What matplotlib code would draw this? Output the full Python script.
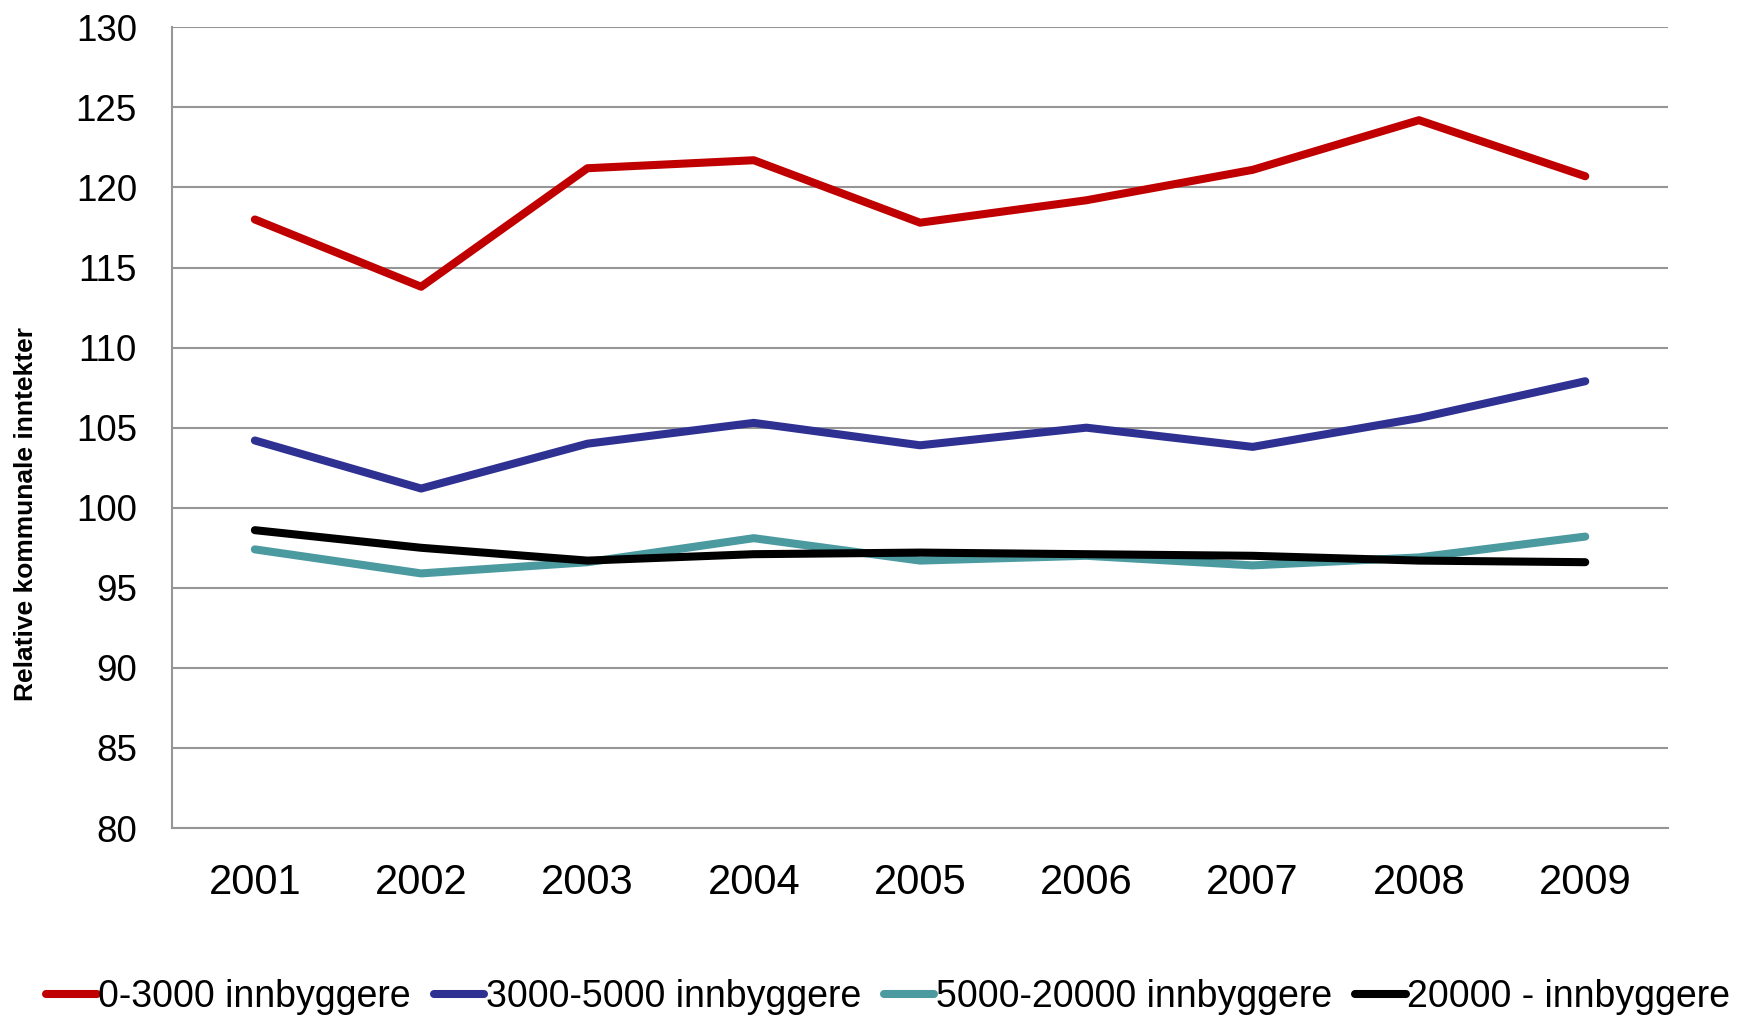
import matplotlib
matplotlib.use("Agg")
import matplotlib.pyplot as plt

plt.rcParams["font.family"] = ["Liberation Sans", "DejaVu Sans"]

years = ["2001", "2002", "2003", "2004", "2005", "2006", "2007", "2008", "2009"]
series_names = ["0-3000 innbyggere", "3000-5000 innbyggere",
                "5000-20000 innbyggere", "20000 - innbyggere"]
small = [118.0, 113.8, 121.2, 121.7, 117.8, 119.2, 121.1, 124.2, 120.7]
medium = [104.2, 101.2, 104.0, 105.3, 103.9, 105.0, 103.8, 105.6, 107.9]
large = [97.4, 95.9, 96.6, 98.1, 96.7, 97.0, 96.4, 96.9, 98.2]
city = [98.6, 97.5, 96.7, 97.1, 97.2, 97.1, 97.0, 96.7, 96.6]
colors = ["#C00000", "#2E3192", "#4A9AA0", "#000000"]

fig = plt.figure(figsize=(17.45, 10.19), dpi=100)
ax = fig.add_axes([0.0984, 0.1874, 0.8577, 0.7858])

x = range(len(years))
for vals, name, col in zip([small, medium, large, city], series_names, colors):
    ax.plot(x, vals, color=col, lw=5.8, label=name, solid_capstyle="round")

ax.set_xlim(-0.5, len(years) - 0.5)
ax.set_ylim(80, 130)
ax.set_yticks(range(80, 131, 5))
ax.set_xticks(list(x))
ax.set_xticklabels(years)
ax.tick_params(axis="y", length=0, pad=25, labelsize=26.5)
ax.tick_params(axis="x", length=0, pad=25, labelsize=30)
ax.yaxis.grid(True, color="#969696", lw=1.5)
ax.set_axisbelow(True)
for s in ["top", "right"]:
    ax.spines[s].set_visible(False)
for s in ["left", "bottom"]:
    ax.spines[s].set_color("#969696")
    ax.spines[s].set_linewidth(1.5)

fig.text(0.0147, 0.4956, "Relative kommunale inntekter", rotation=90,
         ha="center", va="center", fontsize=19, fontweight="bold")

fig.legend(loc="center", bbox_to_anchor=(0.509, 0.0215), ncol=4, frameon=False,
           fontsize=27, handlelength=1.35, handletextpad=0.05,
           columnspacing=0.6, borderpad=0, borderaxespad=0)

fig.savefig("out.png", dpi=100)
